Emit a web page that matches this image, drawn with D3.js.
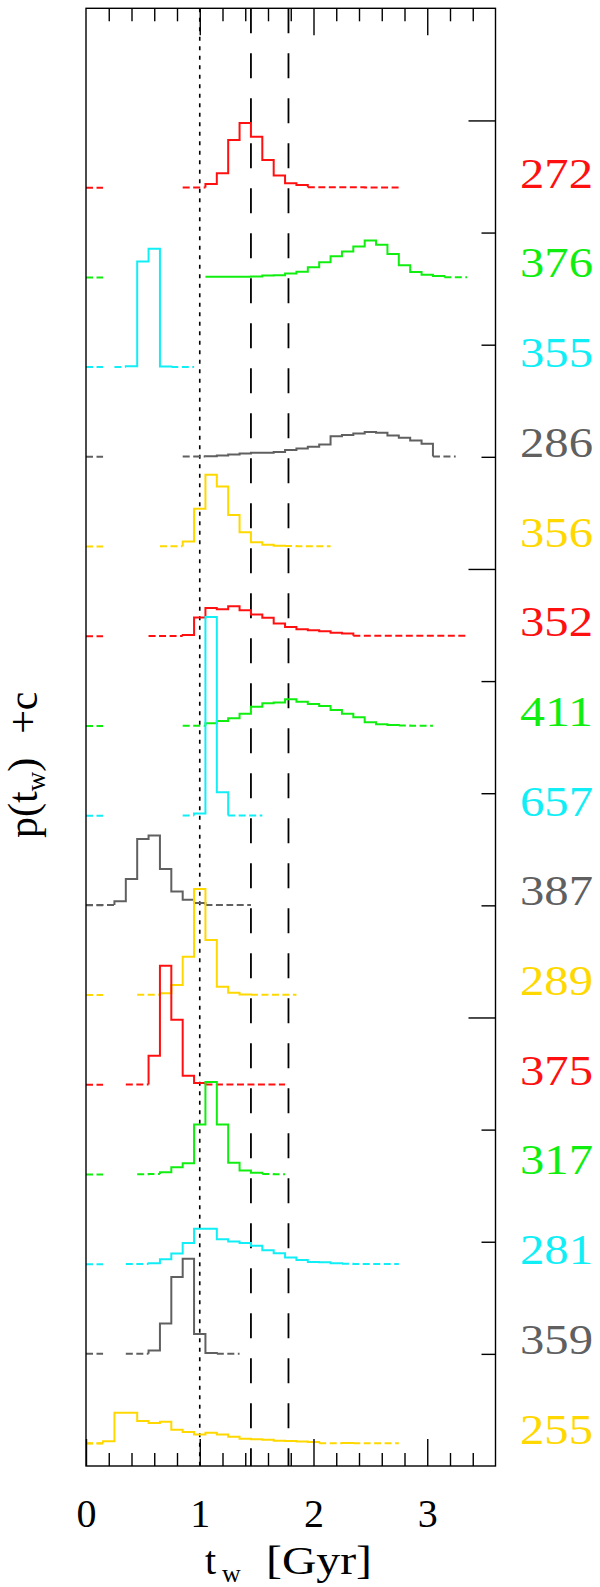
<!DOCTYPE html>
<html>
<head>
<meta charset="utf-8">
<script src="https://cdn.jsdelivr.net/npm/d3@7"></script>
<style>
  body { margin: 0; background: #fff; }
  svg { display: block; }
  text { font-family: "Liberation Serif", "DejaVu Serif", serif; }
</style>
</head>
<body>
<div id="container"></div>
<script>
// galaxies, top to bottom
var galaxyIds = ["272", "376", "355", "286", "356", "352", "411", "657", "387", "289", "375", "317", "281", "359", "255"];
// the "+c" shift of each histogram
var offsets = [5.7, 5.3, 4.9, 4.5, 4.1, 3.7, 3.3, 2.9, 2.5, 2.1, 1.7, 1.3, 0.9, 0.5, 0.1];
// centre of the first 0.1 Gyr bin of each histogram
var firstBin = [0.9, 1.1, 0.3, 0.9, 0.7, 0.6, 0.9, 0.9, 0.0, 0.5, 0.4, 0.5, 0.4, 0.4, 0.0];
var lineColors = ["#ff1010", "#10ee10", "#10eef6", "#606060", "#ffd800"];

// p(t_w) per bin
var p272 = [0.001, 0.001, 0.016, 0.064, 0.213, 0.289, 0.227, 0.124, 0.054, 0.020, 0.012, 0.002, 0.002, 0.002, 0.002, 0.002, 0.001, 0.001, 0.001];
var p376 = [0.003, 0.003, 0.003, 0.003, 0.004, 0.008, 0.010, 0.018, 0.025, 0.045, 0.068, 0.094, 0.116, 0.138, 0.165, 0.146, 0.104, 0.054, 0.024, 0.012, 0.006, 0.001, 0.001];
var p355 = [0.001, 0.004, 0.471, 0.528, 0.003, 0.001, 0.001];
var p286 = [0.001, 0.001, 0.003, 0.006, 0.010, 0.015, 0.018, 0.018, 0.022, 0.030, 0.037, 0.045, 0.055, 0.092, 0.097, 0.104, 0.111, 0.107, 0.095, 0.085, 0.073, 0.058, 0.001, 0.001];
var p356 = [0.001, 0.001, 0.022, 0.168, 0.320, 0.268, 0.141, 0.064, 0.019, 0.008, 0.004, 0.002, 0.001, 0.001, 0.001];
var p352 = [0.001, 0.001, 0.001, 0.006, 0.083, 0.126, 0.120, 0.134, 0.116, 0.097, 0.082, 0.057, 0.041, 0.031, 0.027, 0.022, 0.015, 0.012, 0.002, 0.002, 0.002, 0.002, 0.002, 0.002, 0.002, 0.002, 0.002, 0.002];
var p411 = [0.001, 0.001, 0.012, 0.022, 0.034, 0.054, 0.086, 0.101, 0.104, 0.119, 0.108, 0.098, 0.089, 0.071, 0.054, 0.039, 0.016, 0.008, 0.004, 0.002, 0.001, 0.001];
var p657 = [0.001, 0.009, 0.886, 0.104, 0.001, 0.001, 0.001];
var p387 = [0.001, 0.001, 0.001, 0.018, 0.117, 0.296, 0.311, 0.162, 0.062, 0.025, 0.010, 0.002, 0.002, 0.001, 0.001];
var p289 = [0.001, 0.001, 0.008, 0.045, 0.171, 0.473, 0.245, 0.037, 0.010, 0.003, 0.001, 0.001, 0.001, 0.001];
var p375 = [0.001, 0.001, 0.129, 0.531, 0.290, 0.040, 0.008, 0.001, 0.001, 0.001, 0.001, 0.001, 0.001, 0.001];
var p317 = [0.001, 0.002, 0.010, 0.032, 0.050, 0.223, 0.412, 0.223, 0.052, 0.018, 0.008, 0.002, 0.001];
var p281 = [0.001, 0.001, 0.004, 0.022, 0.048, 0.094, 0.158, 0.158, 0.111, 0.101, 0.094, 0.082, 0.062, 0.049, 0.030, 0.019, 0.010, 0.008, 0.004, 0.002, 0.001, 0.001, 0.001, 0.001];
var p359 = [0.001, 0.001, 0.015, 0.135, 0.343, 0.424, 0.089, 0.004, 0.001, 0.001];
var p255 = [0.001, 0.001, 0.010, 0.137, 0.137, 0.101, 0.092, 0.097, 0.062, 0.052, 0.041, 0.048, 0.040, 0.030, 0.022, 0.019, 0.017, 0.013, 0.012, 0.009, 0.007, 0.002, 0.002, 0.003, 0.002, 0.001, 0.001, 0.001];

var xMajor = [0, 1, 2, 3];
var yMajor = [0, 2, 4, 6];
var dottedAt = 1.0;
var dashedAt = [1.45, 1.78];

var allValues = [p272, p376, p355, p286, p356, p352, p411, p657, p387, p289, p375, p317, p281, p359, p255];
var series = galaxyIds.map(function(id, i) {
  return { id: id, c: offsets[i], start: firstBin[i], values: allValues[i], color: lineColors[i % 5] };
});

var width = 600, height = 1587;
var binWidth = 0.1, lowLimit = 0.0025;

var svg = d3.select("#container").append("svg")
  .attr("width", width)
  .attr("height", height);

var x = d3.scaleLinear().domain([0, 3.6]).range([86, 495.5]);
var y = d3.scaleLinear().domain([0, 6.5]).range([1466, 8.3]);

// vertical reference lines
svg.append("line")
  .attr("x1", x(dottedAt)).attr("x2", x(dottedAt))
  .attr("y1", y(6.5)).attr("y2", y(0))
  .attr("stroke", "#000").attr("stroke-width", 1.6)
  .attr("stroke-dasharray", "4,5.5");

svg.selectAll(".vdash").data(dashedAt).enter().append("line")
  .attr("class", "vdash")
  .attr("x1", function(d) { return x(d); }).attr("x2", function(d) { return x(d); })
  .attr("y1", y(6.5)).attr("y2", y(0))
  .attr("stroke", "#000").attr("stroke-width", 1.8)
  .attr("stroke-dasharray", "25,20");

// histograms
var line = d3.line();
series.forEach(function(s) {
  var g = svg.append("g").attr("stroke", s.color).attr("fill", "none").attr("stroke-width", 2);
  var n = s.values.length;
  var edges = d3.range(n + 1).map(function(i) {
    return Math.max(0, s.start - binWidth / 2 + i * binWidth);
  });
  var yv = function(i) { return y(s.c + s.values[i]); };

  // zero-level marker at the left edge
  g.append("path")
    .attr("d", line([[x(0), y(s.c)], [x(0.15), y(s.c)]]))
    .attr("stroke-dasharray", "7,3.5");

  // split into runs of low (dashed) and significant (solid) bins
  var runs = [];
  s.values.forEach(function(v, i) {
    var low = v < lowLimit;
    if (runs.length && runs[runs.length - 1].low === low) runs[runs.length - 1].end = i;
    else runs.push({ low: low, start: i, end: i });
  });

  runs.forEach(function(r) {
    var pts = [];
    if (!r.low && r.start > 0) pts.push([x(edges[r.start]), yv(r.start - 1)]);
    for (var i = r.start; i <= r.end; i++) {
      pts.push([x(edges[i]), yv(i)]);
      pts.push([x(edges[i + 1]), yv(i)]);
    }
    if (!r.low && r.end < n - 1) pts.push([x(edges[r.end + 1]), yv(r.end + 1)]);
    var path = g.append("path").attr("d", line(pts));
    if (r.low) path.attr("stroke-dasharray", "7,3.5");
  });
});

// axes
var minorX = d3.range(1, 18).filter(function(i) { return i % 5 !== 0; }).map(function(i) { return i * 0.2; });
var minorY = d3.range(1, 13).filter(function(i) { return i % 4 !== 0; }).map(function(i) { return i * 0.5; });

function styleAxis(sel) {
  sel.select(".domain").remove();
  sel.selectAll(".tick line").attr("stroke", "#000").attr("stroke-width", 1.4);
}

svg.append("g").attr("transform", "translate(0," + y(0) + ")")
  .call(d3.axisBottom(x).tickValues(minorX).tickSize(-13).tickFormat(""))
  .call(styleAxis);
svg.append("g").attr("class", "xlab").attr("transform", "translate(0," + y(0) + ")")
  .call(d3.axisBottom(x).tickValues(xMajor).tickSize(-27).tickPadding(33).tickFormat(d3.format("d")))
  .call(styleAxis);
svg.select(".xlab").selectAll("text")
  .attr("font-family", "Liberation Serif").attr("font-size", 40).attr("fill", "#000");

svg.append("g").attr("transform", "translate(0," + y(6.5) + ")")
  .call(d3.axisTop(x).tickValues(minorX).tickSize(-13).tickFormat(""))
  .call(styleAxis);
svg.append("g").attr("transform", "translate(0," + y(6.5) + ")")
  .call(d3.axisTop(x).tickValues(xMajor.slice(1)).tickSize(-27).tickFormat(""))
  .call(styleAxis);

svg.append("g").attr("transform", "translate(" + x(3.6) + ",0)")
  .call(d3.axisLeft(y).tickValues(minorY).tickSize(14).tickFormat(""))
  .call(styleAxis);
svg.append("g").attr("transform", "translate(" + x(3.6) + ",0)")
  .call(d3.axisLeft(y).tickValues(yMajor.slice(1)).tickSize(27).tickFormat(""))
  .call(styleAxis);

// frame
svg.append("rect")
  .attr("x", x(0)).attr("y", y(6.5))
  .attr("width", x(3.6) - x(0)).attr("height", y(0) - y(6.5))
  .attr("fill", "none").attr("stroke", "#000").attr("stroke-width", 1.4);

// galaxy labels on the right
svg.selectAll(".gal").data(series).enter().append("text")
  .attr("class", "gal")
  .attr("x", 520)
  .attr("y", function(d) { return y(d.c); })
  .attr("font-size", 42)
  .attr("textLength", 73)
  .attr("lengthAdjust", "spacingAndGlyphs")
  .attr("fill", function(d) { return d.color; })
  .text(function(d) { return d.id; });

// axis titles
var xt = svg.append("g").attr("font-size", 40).attr("fill", "#000");
xt.append("text").attr("x", 205).attr("y", 1574).text("t");
xt.append("text").attr("x", 222).attr("y", 1582).attr("font-size", 26).text("w");
xt.append("text").attr("x", 266).attr("y", 1574)
  .attr("textLength", 106).attr("lengthAdjust", "spacingAndGlyphs").text("[Gyr]");

var yt = svg.append("text")
  .attr("transform", "translate(37,838) rotate(-90)")
  .attr("font-size", 42).attr("fill", "#000");
yt.append("tspan").text("p(t");
yt.append("tspan").attr("font-size", 27).attr("dy", 8).text("w");
yt.append("tspan").attr("dy", -8).text(")");
yt.append("tspan").attr("dx", 24).text("+c");
</script>
</body>
</html>
